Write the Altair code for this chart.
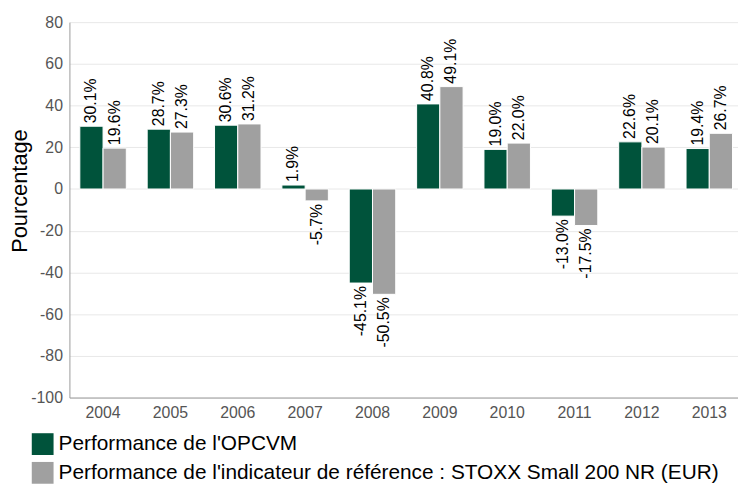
import altair as alt
import pandas as pd

years = ["2004", "2005", "2006", "2007", "2008", "2009", "2010", "2011", "2012", "2013"]
fund = [30.1, 28.7, 30.6, 1.9, -45.1, 40.8, 19.0, -13.0, 22.6, 19.4]
bench = [19.6, 27.3, 31.2, -5.7, -50.5, 49.1, 22.0, -17.5, 20.1, 26.7]
series_names = [
    "Performance de l'OPCVM",
    "Performance de l'indicateur de référence : STOXX Small 200 NR (EUR)",
]
colors = ["#00533b", "#a0a0a0"]

rows = []
for i, y in enumerate(years):
    for name, vals in zip(series_names, [fund, bench]):
        v = vals[i]
        rows.append({"year": y, "series": name, "value": v, "label": f"{v:.1f}%"})
df = pd.DataFrame(rows)

FONT = "Liberation Sans"

x_enc = alt.X(
    "year:N",
    sort=years,
    scale=alt.Scale(paddingInner=0.31, paddingOuter=0.118, align=0.655),
    axis=alt.Axis(
        title=None, labelAngle=0, ticks=False, labelPadding=7,
        labelFontSize=16, labelColor="#555555", labelFont=FONT,
        domainColor="#9a9a9a", grid=False,
    ),
)
xoff = alt.XOffset("series:N", sort=series_names)
y_enc = alt.Y(
    "value:Q",
    scale=alt.Scale(domain=[-100, 80], nice=False),
    axis=alt.Axis(
        values=list(range(-100, 81, 20)), title="Pourcentage", ticks=False,
        labelExpr="'' + datum.value",
        labelFontSize=16, labelColor="#555555", labelFont=FONT, labelPadding=7,
        domainColor="#9a9a9a", gridColor="#e8e8e8",
        titleFontSize=22, titleFont=FONT, titleColor="#000000", titleFontWeight="normal",
        titleAngle=270, titleX=-50, titleY=170, titleAlign="center", titleBaseline="middle",
    ),
)

base = alt.Chart(df).encode(x=x_enc, xOffset=xoff)

bars = base.mark_bar(stroke="white", strokeWidth=1).encode(
    y=y_enc,
    color=alt.Color(
        "series:N",
        sort=series_names,
        scale=alt.Scale(domain=series_names, range=colors),
        legend=alt.Legend(
            title=None, orient="none", legendX=-38, legendY=415,
            symbolType="square", symbolSize=484, symbolStrokeWidth=0,
            labelFontSize=21, labelFont=FONT, labelColor="#000000",
            labelLimit=1000, rowPadding=7, labelOffset=5, direction="vertical",
        ),
    ),
)

pos = base.transform_filter("datum.value >= 0").mark_text(
    angle=270, align="left", baseline="middle", dx=3, fontSize=16, font=FONT, color="#000000"
).encode(y=alt.Y("value:Q"), text="label:N")

neg = base.transform_filter("datum.value < 0").mark_text(
    angle=270, align="right", baseline="middle", dx=-3, fontSize=16, font=FONT, color="#000000"
).encode(y=alt.Y("value:Q"), text="label:N")

chart = (
    alt.layer(bars, pos, neg)
    .properties(
        width=675, height=379,
        autosize=alt.AutoSizeParams(type="none"),
        padding={"left": 62, "top": 12, "right": 0, "bottom": 87},
    )
    .configure_view(stroke=None)
)

chart.save("out.html", embed_options={"renderer": "svg", "actions": False})
